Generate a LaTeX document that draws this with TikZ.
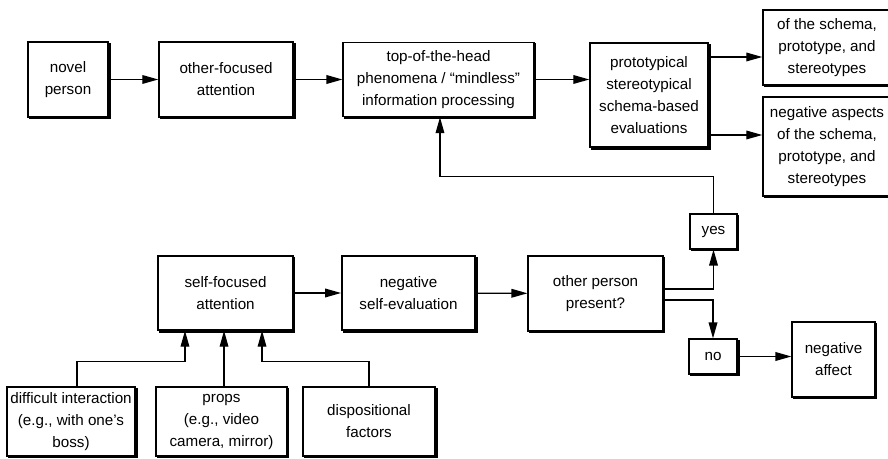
\documentclass[tikz,border=0pt]{standalone}
\usepackage{fontspec}
\setmainfont{Liberation Sans}
\usepackage{tikz}
\usetikzlibrary{positioning, arrows.meta}

\tikzset{
  block/.style={draw, fill=white, line width=1.1pt, align=center, inner sep=0pt,
    font=\fontsize{11.4}{16.5}\selectfont,
    preaction={draw=black, line width=1.3pt, transform canvas={xshift=1.3pt, yshift=-1.3pt}}},
  conn/.style={line width=1pt, -{Triangle[length=12pt, width=6.5pt]}},
}

\begin{document}
\begin{tikzpicture}[x=0.75pt, y=-0.75pt]
    \useasboundingbox (0,0) rectangle (888,459);

    % top row
    \node[block, minimum width=60pt, minimum height=56pt] (novel) at (68,79.5) {novel\\person};
    \node[block, minimum width=100.5pt, minimum height=56pt] (otherfoc) at (226,79.5) {other-focused\\attention};
    \node[block, minimum width=143pt, minimum height=55.5pt] (tophead) at (438.5,79.5)
      {top-of-the-head\\phenomena / ``mindless''\\information processing};
    \node[block, minimum width=88.5pt, minimum height=78pt] (proto) at (649,95)
      {prototypical\\stereotypical\\schema-based\\evaluations};
    \node[block, minimum width=96pt, minimum height=56pt] (posasp) at (827,47.5)
      {of the schema,\\prototype, and\\stereotypes};
    \node[block, minimum width=96pt, minimum height=74pt] (negasp) at (827,146.5)
      {negative aspects\\of the schema,\\prototype, and\\stereotypes};

    % bottom row
    \node[block, minimum width=101pt, minimum height=55.5pt] (selffoc) at (225.5,293) {self-focused\\attention};
    \node[block, minimum width=100pt, minimum height=55.5pt] (negself) at (408.5,293) {negative\\self-evaluation};
    \node[block, minimum width=101pt, minimum height=56pt] (otherpres) at (595.5,293.5) {other person\\present?};
    \node[block, minimum width=35pt, minimum height=26pt] (yes) at (713.5,231.5) {yes};
    \node[block, minimum width=36pt, minimum height=26pt] (no) at (713,356.5) {no};
    \node[block, minimum width=62pt, minimum height=56pt] (negaff) at (833.5,359.5) {negative\\affect};

    % causes of self-focus
    \node[block, minimum width=96pt, minimum height=51.5pt] (difficult) at (71,421.5)
      {difficult interaction\\(e.g., with one's\\boss)};
    \node[block, minimum width=98pt, minimum height=51.5pt] (props) at (221.5,421.5)
      {props\\(e.g., video\\camera, mirror)};
    \node[block, minimum width=99pt, minimum height=51.5pt] (dispos) at (369,421.5)
      {dispositional\\factors};

    % connectors
    \draw[conn] (novel) -- (otherfoc);
    \draw[conn] (otherfoc) -- (tophead);
    \draw[conn] (tophead.east) -- (tophead.east -| proto.west);
    \coordinate (pu) at ([yshift=28.5pt]proto.east);
    \coordinate (pd) at ([yshift=-30pt]proto.east);
    \draw[conn] (pu) -- (pu -| posasp.west);
    \draw[conn] (pd) -- (pd -| negasp.west);

    \draw[conn] (selffoc) -- (negself);
    \draw[conn] (negself) -- (otherpres);
    \draw[conn] ([yshift=3.4pt]otherpres.east) -| (yes.south);
    \draw[conn] ([yshift=-4.9pt]otherpres.east) -| (no.north);
    \draw[conn] (no) -- (no -| negaff.west);
    \draw[conn] (yes.north) -- ++(0,-37) -| ([xshift=1.1pt]tophead.south);

    \draw[conn] ([xshift=4.5pt]difficult.north) -- ++(0,-25) -| ([xshift=-30.4pt]selffoc.south);
    \draw[conn] ([xshift=1.9pt]props.north) -- ([xshift=-1.1pt]selffoc.south);
    \draw[conn] (dispos.north) -- ++(0,-25) -| ([xshift=27.4pt]selffoc.south);
\end{tikzpicture}
\end{document}
